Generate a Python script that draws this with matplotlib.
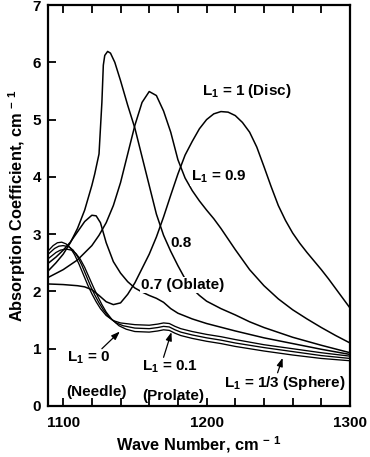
import matplotlib
matplotlib.use("Agg")
import matplotlib.pyplot as plt

plt.rcParams['font.family'] = ['Liberation Sans', 'DejaVu Sans']
plt.rcParams['font.weight'] = 'bold'
plt.rcParams['axes.labelweight'] = 'bold'
plt.rcParams['mathtext.fontset'] = 'custom'
plt.rcParams['mathtext.rm'] = 'Liberation Sans:bold'
plt.rcParams['mathtext.default'] = 'rm'

# --- data ---
# L1 = 1 (disc)
x_disc = [1090, 1100, 1110, 1115, 1120, 1125, 1130, 1135, 1140, 1145, 1150, 1155, 1160,
          1165, 1170, 1175, 1180, 1185, 1190, 1195, 1200, 1205, 1210, 1215, 1220, 1225,
          1230, 1235, 1240, 1245, 1250, 1255, 1260, 1265, 1270, 1275, 1280, 1285, 1290,
          1295, 1300]
y_disc = [2.13, 2.12, 2.10, 2.08, 2.03, 1.93, 1.82, 1.77, 1.80, 1.95, 2.15, 2.40, 2.65,
          2.95, 3.30, 3.68, 4.05, 4.38, 4.62, 4.84, 5.00, 5.10, 5.14, 5.13, 5.07, 4.95,
          4.78, 4.52, 4.18, 3.83, 3.50, 3.24, 3.02, 2.84, 2.68, 2.53, 2.38, 2.22, 2.05,
          1.88, 1.71]

# L1 = 0.9
x_09 = [1090, 1100, 1110, 1120, 1125, 1130, 1135, 1140, 1145, 1150, 1155, 1160, 1165,
        1170, 1175, 1180, 1185, 1190, 1195, 1200, 1205, 1210, 1220, 1230, 1240, 1250,
        1260, 1270, 1280, 1290, 1300]
y_09 = [2.25, 2.38, 2.55, 2.80, 2.98, 3.20, 3.50, 3.90, 4.40, 4.90, 5.30, 5.49, 5.42,
        5.15, 4.78, 4.30, 3.98, 3.76, 3.58, 3.42, 3.27, 3.10, 2.73, 2.38, 2.10, 1.87,
        1.68, 1.52, 1.37, 1.23, 1.10]

# L1 = 0.8
x_08 = [1090, 1095, 1100, 1105, 1110, 1115, 1120, 1122, 1125, 1127, 1128, 1129, 1131,
        1133, 1136, 1140, 1145, 1150, 1155, 1160, 1165, 1170, 1175, 1180, 1185, 1190,
        1195, 1200, 1210, 1220, 1230, 1240, 1260, 1280, 1300]
y_08 = [2.37, 2.50, 2.65, 2.85, 3.10, 3.42, 3.85, 4.05, 4.40, 5.30, 5.95, 6.12, 6.19,
        6.16, 6.00, 5.68, 5.25, 4.85, 4.35, 3.85, 3.35, 2.98, 2.70, 2.45, 2.22, 2.05,
        1.93, 1.83, 1.70, 1.59, 1.47, 1.37, 1.20, 1.06, 0.93]

# L1 = 0.7 (oblate)
x_07 = [1090, 1095, 1100, 1105, 1110, 1115, 1120, 1123, 1126, 1130, 1135, 1140, 1145,
        1150, 1155, 1160, 1165, 1170, 1175, 1180, 1190, 1200, 1220, 1240, 1260, 1280, 1300]
y_07 = [2.50, 2.60, 2.72, 2.86, 3.04, 3.22, 3.33, 3.32, 3.20, 2.85, 2.52, 2.32, 2.17,
        2.06, 1.99, 1.93, 1.88, 1.81, 1.70, 1.62, 1.52, 1.44, 1.31, 1.19, 1.09, 0.99, 0.90]

# L1 = 0 (needle)
x_needle = [1090, 1093, 1096, 1099, 1102, 1105, 1108, 1111, 1114, 1117, 1120, 1123, 1126,
            1130, 1135, 1140, 1150, 1160, 1166, 1170, 1174, 1178, 1182, 1190, 1200, 1210,
            1220, 1240, 1260, 1280, 1300]
y_needle = [2.72, 2.80, 2.85, 2.86, 2.83, 2.76, 2.64, 2.48, 2.30, 2.12, 1.96, 1.82, 1.70,
            1.58, 1.49, 1.45, 1.42, 1.41, 1.43, 1.45, 1.44, 1.39, 1.35, 1.30, 1.25, 1.21,
            1.16, 1.07, 1.00, 0.93, 0.87]
# L1 = 0.1 (prolate)
x_prolate = [1090, 1094, 1097, 1100, 1104, 1107, 1110, 1113, 1116, 1119, 1122, 1125, 1128,
             1132, 1137, 1142, 1150, 1160, 1166, 1170, 1174, 1178, 1182, 1190, 1200, 1210,
             1220, 1240, 1260, 1280, 1300]
y_prolate = [2.66, 2.75, 2.79, 2.80, 2.78, 2.72, 2.61, 2.46, 2.28, 2.10, 1.94, 1.80, 1.68,
             1.55, 1.45, 1.40, 1.36, 1.35, 1.37, 1.39, 1.38, 1.33, 1.29, 1.24, 1.19, 1.15,
             1.10, 1.02, 0.95, 0.88, 0.83]
# L1 = 1/3 (sphere)
x_sphere = [1090, 1095, 1098, 1102, 1106, 1109, 1112, 1115, 1118, 1121, 1124, 1127, 1130,
            1134, 1139, 1144, 1150, 1160, 1166, 1170, 1174, 1178, 1182, 1190, 1200, 1210,
            1220, 1240, 1260, 1280, 1300]
y_sphere = [2.58, 2.68, 2.72, 2.74, 2.72, 2.66, 2.56, 2.42, 2.25, 2.08, 1.92, 1.77, 1.64,
            1.51, 1.40, 1.34, 1.30, 1.29, 1.31, 1.33, 1.32, 1.27, 1.23, 1.18, 1.13, 1.09,
            1.04, 0.96, 0.89, 0.83, 0.79]

x_ticks = [1100, 1200, 1300]
y_ticks = [0, 1, 2, 3, 4, 5, 6, 7]

fig = plt.figure(figsize=(3.7, 4.57), dpi=100)
ax = fig.add_axes([0.13, 0.1116, 0.816, 0.8774])

for xs, ys in [(x_disc, y_disc), (x_09, y_09), (x_08, y_08), (x_07, y_07)]:
    ax.plot(xs, ys, color='black', lw=1.1, solid_joinstyle='round')
for xs, ys in [(x_needle, y_needle), (x_prolate, y_prolate), (x_sphere, y_sphere)]:
    ax.plot(xs, ys, color='black', lw=0.95, solid_joinstyle='round')

ax.set_xlim(1089.5, 1300)
ax.set_ylim(0, 7)
ax.set_xticks(x_ticks)
ax.set_xticks(range(1100, 1301, 20), minor=True)
ax.set_yticks(y_ticks)
ax.tick_params(axis='x', which='both', direction='in', top=True, length=6, width=1.3,
               labelsize=11, pad=7)
ax.tick_params(axis='y', which='both', direction='in', right=False, length=6, width=1.3,
               labelsize=11, pad=5)
for sp in ax.spines.values():
    sp.set_linewidth(1.6)

ax.set_xlabel(r'Wave Number, cm$^{\,-\,1}$', fontsize=11.8, labelpad=3)
ax.set_ylabel(r'Absorption Coefficient, cm$^{\,-\,1}$', fontsize=11.8, labelpad=3)

txt = dict(fontsize=11, fontweight='bold', color='black')
white = dict(facecolor='white', edgecolor='none', pad=0.5)
ax.text(1197, 5.5, r'L$_1$ = 1 (Disc)', ha='left', va='center', **txt)
ax.text(1189, 4.0, r'L$_1$ = 0.9', ha='left', va='center', bbox=white, **txt)
ax.text(1175, 2.85, '0.8', ha='left', va='center', **txt)
ax.text(1154, 2.11, '0.7 (Oblate)', ha='left', va='center', bbox=white, **txt)
ax.text(1103, 0.85, r'L$_1$ = 0', ha='left', va='center', **txt)
ax.text(1102, 0.25, '(Needle)', ha='left', va='center', **txt)
ax.text(1155, 0.68, r'L$_1$ = 0.1', ha='left', va='center', **txt)
ax.text(1155, 0.17, '(Prolate)', ha='left', va='center', **txt)
ax.text(1212, 0.40, r'L$_1$ = 1/3 (Sphere)', ha='left', va='center', **txt)

arrow = dict(arrowstyle='-|>,head_length=0.5,head_width=0.18', color='black', lw=0.9,
             shrinkA=0, shrinkB=0)
ax.annotate('', xy=(1139.5, 1.30), xytext=(1127, 1.0), arrowprops=arrow)
ax.annotate('', xy=(1175.5, 1.29), xytext=(1170, 0.85), arrowprops=arrow)
ax.annotate('', xy=(1253, 0.84), xytext=(1249.5, 0.58), arrowprops=arrow)

fig.savefig('out.png', dpi=100)
